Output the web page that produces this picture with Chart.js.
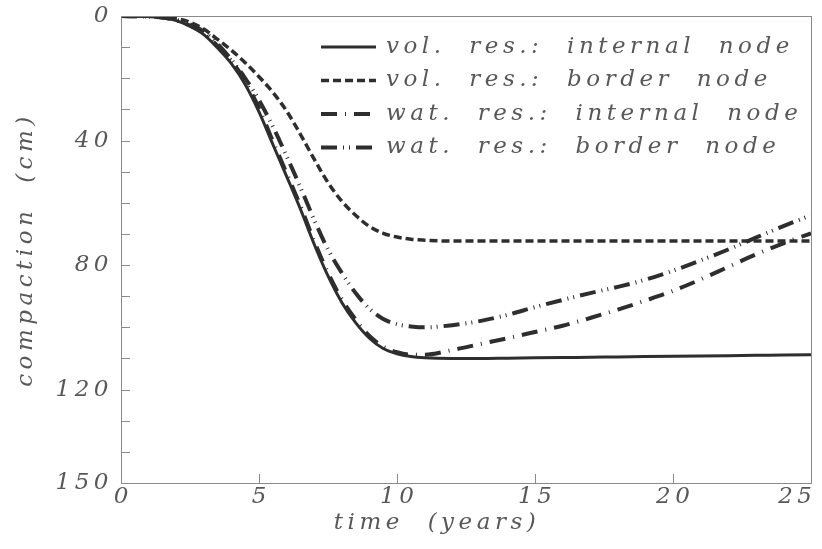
<!DOCTYPE html>
<html lang="en">
<head>
    <meta charset="UTF-8">
    <title>Compaction vs time</title>
    <script src="https://cdn.jsdelivr.net/npm/chart.js"></script>
    <style>
        * {
            margin: 0;
            padding: 0;
            box-sizing: border-box;
        }
        body {
            background: #fff;
            width: 822px;
            height: 549px;
            overflow: hidden;
        }
        #wrap {
            position: relative;
            width: 822px;
            height: 549px;
        }
    </style>
</head>
<body>
    <div id="wrap"><canvas id="myChart"></canvas></div>

    <script>
        // time axis (years)
        const years = [0, 1, 1.5, 2, 2.5, 3, 3.5, 4, 4.5, 5, 5.5, 6, 6.5, 7, 7.5, 8, 8.5, 9, 9.5, 10, 10.5, 11,
                       12, 13, 14, 15, 16, 17, 18, 19, 20, 21, 22, 23, 24, 25];

        // compaction (cm)
        const volInternal = [0, 0.2, 0.6, 1.5, 3.3, 6, 10.3, 15.3, 22, 30.8, 41.2, 51.5, 62, 73.3, 83.5, 92, 98.5, 103.5, 106.8, 108.5, 109.4, 109.8,
                             110, 110, 109.9, 109.8, 109.7, 109.6, 109.5, 109.4, 109.3, 109.2, 109.1, 109, 108.9, 108.8];
        const volBorder = [0, 0.1, 0.3, 0.8, 2, 4.2, 7.5, 11, 15, 19.5, 24.5, 30.5, 38, 46, 53.5, 59.5, 64, 67.6, 69.8, 71, 71.7, 72,
                           72.3, 72.3, 72.3, 72.3, 72.3, 72.3, 72.3, 72.3, 72.3, 72.3, 72.3, 72.3, 72.3, 72.3];
        const watInternal = [0, 0.2, 0.5, 1.4, 3.1, 5.6, 9.6, 14.4, 21, 29.6, 40.2, 50.5, 61, 72.3, 82.5, 91, 97.5, 102.8, 106.2, 108, 108.8, 108.8,
                             107.3, 105.4, 103.5, 101.5, 99.5, 97, 94.3, 91.4, 88.3, 84.6, 80.6, 76.6, 73, 69.8];
        const watBorder = [0, 0.2, 0.5, 1.2, 2.7, 5, 9, 14, 20, 27, 35.5, 45, 55, 65.5, 75, 82.5, 89, 94, 97.3, 99, 99.7, 100,
                           99.3, 98, 96, 93.5, 91.2, 89, 87, 84.7, 81.8, 78.5, 75, 71.2, 67.5, 64];

        const seriesLabels = [
            'vol. res.: internal node',
            'vol. res.: border node',
            'wat. res.: internal node',
            'wat. res.: border node'
        ];

        const yTickValues = [0, 40, 80, 120, 150];
        const yMinorTicks = [10, 20, 30, 40, 50, 60, 70, 80, 90, 100, 110, 120, 130, 140];
        const xTickValues = [0, 5, 10, 15, 20, 25];
        const xTitle = 'time (years)';

        const ink = '#2e2e2e';
        const textColor = '#585858';
        const fontFamily = '"DejaVu Serif", serif';
        const fontSize = 23;
        const textFont = 'italic ' + fontSize + 'px ' + fontFamily;
        const letterGap = 4.5;

        const toPoints = arr => arr.map((v, i) => ({ x: years[i], y: v }));

        function setSpacing(c) {
            c.letterSpacing = letterGap + 'px';
            c.wordSpacing = '12px';
        }

        // wide letter spacing like the original typeset labels
        const spacingPlugin = {
            id: 'spacing',
            beforeLayout(chart) { setSpacing(chart.ctx); },
            beforeDraw(chart) { setSpacing(chart.ctx); }
        };

        // frame, inward ticks, x labels and legend
        const framePlugin = {
            id: 'frame',
            afterDatasetsDraw(chart) {
                const { ctx, chartArea: a, scales } = chart;
                ctx.save();
                ctx.strokeStyle = '#8a8a8a';
                ctx.lineWidth = 1;
                ctx.strokeRect(a.left + 0.5, a.top + 0.5, a.right - a.left, a.bottom - a.top);

                ctx.beginPath();
                yMinorTicks.forEach(v => {
                    const y = Math.round(scales.y.getPixelForValue(v)) + 0.5;
                    ctx.moveTo(a.left, y);
                    ctx.lineTo(a.left + 9, y);
                });
                xTickValues.slice(1, -1).forEach(v => {
                    const x = Math.round(scales.x.getPixelForValue(v)) + 0.5;
                    ctx.moveTo(x, a.bottom);
                    ctx.lineTo(x, a.bottom - 9);
                });
                ctx.stroke();

                ctx.font = textFont;
                setSpacing(ctx);
                ctx.fillStyle = textColor;
                ctx.textBaseline = 'middle';

                // x tick labels (last one kept inside the canvas)
                ctx.textAlign = 'left';
                xTickValues.forEach(v => {
                    const label = String(v);
                    const w = ctx.measureText(label).width - letterGap;
                    let x = scales.x.getPixelForValue(v) - w / 2;
                    x = Math.min(x, chart.width - w - 10);
                    ctx.fillText(label, x, a.bottom + 14);
                });

                // x title
                const tw = ctx.measureText(xTitle).width;
                ctx.fillText(xTitle, 437 - tw / 2, a.bottom + 40);

                // legend
                chart.data.datasets.forEach((ds, i) => {
                    const y = 47 + i * 33.5;
                    ctx.strokeStyle = ds.borderColor;
                    ctx.lineWidth = ds.borderWidth;
                    ctx.setLineDash(ds.borderDash || []);
                    ctx.beginPath();
                    ctx.moveTo(321, y);
                    ctx.lineTo(376, y);
                    ctx.stroke();
                    ctx.setLineDash([]);
                    ctx.fillText(ds.label, 386, y);
                });
                ctx.restore();
            }
        };

        const ctx = document.getElementById('myChart').getContext('2d');

        const chart = new Chart(ctx, {
            type: 'line',
            data: {
                datasets: [
                    { label: seriesLabels[0], data: toPoints(volInternal), borderColor: ink, borderWidth: 3, borderDash: [] },
                    { label: seriesLabels[1], data: toPoints(volBorder), borderColor: ink, borderWidth: 3.5, borderDash: [8, 4] },
                    { label: seriesLabels[2], data: toPoints(watInternal), borderColor: ink, borderWidth: 4, borderDash: [16, 8, 1, 8] },
                    { label: seriesLabels[3], data: toPoints(watBorder), borderColor: ink, borderWidth: 4, borderDash: [16, 6, 1, 5, 1, 6] }
                ]
            },
            options: {
                responsive: true,
                maintainAspectRatio: false,
                animation: false,
                layout: { padding: { top: 16, right: 11, left: 0, bottom: 0 } },
                elements: {
                    point: { radius: 0 },
                    line: { cubicInterpolationMode: 'monotone', fill: false, borderCapStyle: 'butt' }
                },
                scales: {
                    x: {
                        type: 'linear',
                        min: 0,
                        max: 25,
                        grid: { display: false, drawTicks: false },
                        border: { display: false },
                        ticks: { display: false, stepSize: 5 },
                        afterFit: s => { s.height = 66; s.paddingLeft = 0; s.paddingRight = 0; }
                    },
                    y: {
                        reverse: true,
                        min: 0,
                        max: 150,
                        grid: { display: false, drawTicks: false },
                        border: { display: false },
                        afterBuildTicks: s => { s.ticks = yTickValues.map(v => ({ value: v })); },
                        ticks: {
                            padding: 8,
                            color: textColor,
                            font: { family: fontFamily, style: 'italic', size: fontSize }
                        },
                        title: {
                            display: true,
                            text: 'compaction (cm)',
                            color: textColor,
                            padding: { top: 12, bottom: 0 },
                            font: { family: fontFamily, style: 'italic', size: fontSize }
                        },
                        afterFit: s => { s.width = 121; s.paddingTop = 0; s.paddingBottom = 0; }
                    }
                },
                plugins: {
                    legend: { display: false },
                    tooltip: { enabled: false }
                }
            },
            plugins: [spacingPlugin, framePlugin]
        });
    </script>
</body>
</html>
